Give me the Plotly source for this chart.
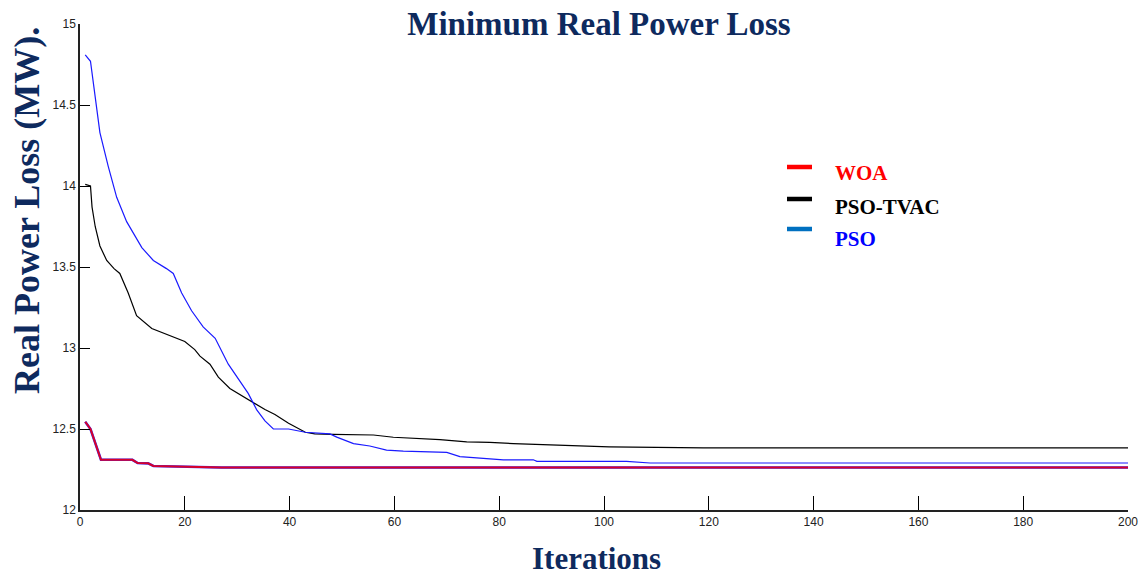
import plotly.graph_objects as go

# ---------------- data ----------------
iter_pso = [1, 2, 3.8, 5.4, 7, 8.9, 11.8, 14, 16.5, 17.8, 19.4, 21.3, 23.5, 25.8,
            28.3, 30.2, 32.1, 33.7, 35.3, 36.9, 39.8, 43, 47.7, 49, 52.2, 55.3,
            58.5, 61.7, 66.2, 70, 72.5, 77, 80.8, 86.5, 87.2, 104.3, 108.8, 200]
loss_pso = [14.81, 14.77, 14.33, 14.12, 13.93, 13.78, 13.62, 13.54, 13.49, 13.46,
            13.34, 13.23, 13.13, 13.06, 12.90, 12.81, 12.72, 12.62, 12.55, 12.50,
            12.50, 12.48, 12.47, 12.45, 12.41, 12.395, 12.37, 12.364, 12.358,
            12.356, 12.33, 12.32, 12.31, 12.31, 12.30, 12.30, 12.29, 12.29]

iter_tvac = [1, 2, 2.3, 2.9, 3.8, 5.1, 6.5, 7.6, 9.2, 10.8, 13.7, 17.5, 20, 21.9,
             22.9, 24.8, 26.4, 28.6, 32.1, 35.3, 37.2, 39.8, 43, 44.8, 48.3, 56,
             59.8, 64.9, 68.7, 73.8, 78.2, 82.7, 87.8, 92.9, 101, 119, 200]
loss_tvac = [14.01, 14.00, 13.87, 13.75, 13.63, 13.54, 13.49, 13.46, 13.34, 13.20,
             13.12, 13.07, 13.04, 12.99, 12.95, 12.90, 12.82, 12.75, 12.68, 12.62,
             12.59, 12.535, 12.48, 12.47, 12.467, 12.463, 12.449, 12.44, 12.434,
             12.42, 12.418, 12.41, 12.405, 12.397, 12.39, 12.383, 12.383]

iter_woa = [1, 2, 4, 10, 11, 13, 14, 20, 26, 27, 200]
loss_woa = [12.545, 12.50, 12.31, 12.31, 12.29, 12.288, 12.272, 12.268, 12.266,
            12.262, 12.262]

x_ticks = [0, 20, 40, 60, 80, 100, 120, 140, 160, 180, 200]
y_ticks = [12, 12.5, 13, 13.5, 14, 14.5, 15]
y_tick_labels = ["12", "12.5", "13", "13.5", "14", "14.5", "15"]

series_names = ["WOA", "PSO-TVAC", "PSO"]
series_text_colors = ["#ff0000", "#000000", "#0000ff"]
series_swatch_colors = ["#ff0000", "#000000", "#0070c0"]

NAVY = "#0e2a5e"
SERIF = "Liberation Serif, Times New Roman, serif"
TICKFONT = dict(family="Liberation Sans Narrow, Liberation Sans, Arial, sans-serif",
                size=12, color="#222222")

fig = go.Figure()

fig.add_trace(go.Scatter(x=iter_tvac, y=loss_tvac, mode="lines",
                         line=dict(color="#000000", width=1.2),
                         name="PSO-TVAC", showlegend=False))
fig.add_trace(go.Scatter(x=iter_pso, y=loss_pso, mode="lines",
                         line=dict(color="#1a1aff", width=1.2),
                         name="PSO", showlegend=False))
# WOA drawn as red over a thin blue edge (as in the reference)
fig.add_trace(go.Scatter(x=iter_woa, y=loss_woa, mode="lines",
                         line=dict(color="#3030ff", width=2.6),
                         hoverinfo="skip", showlegend=False))
fig.add_trace(go.Scatter(x=iter_woa, y=loss_woa, mode="lines",
                         line=dict(color="#d8002a", width=2.0),
                         name="WOA", showlegend=False))

# custom legend (swatch + coloured bold text)
W, H = 1139, 578
L, R, T, B = 80, 11, 24, 68
pw, ph = W - L - R, H - T - B


def px_x(p):
    return (p - L) / pw


def px_y(p):
    return (H - B - p) / ph


swatch_y = [167, 199, 229]
text_y = [173, 207, 239]
for name, tcol, scol, sy, ty in zip(series_names, series_text_colors,
                                    series_swatch_colors, swatch_y, text_y):
    fig.add_shape(type="line", xref="paper", yref="paper",
                  x0=px_x(787), x1=px_x(812), y0=px_y(sy), y1=px_y(sy),
                  line=dict(color=scol, width=4.5))
    fig.add_annotation(xref="paper", yref="paper", x=px_x(833), y=px_y(ty),
                       xanchor="left", yanchor="middle", showarrow=False,
                       text="<b>%s</b>" % name,
                       font=dict(family=SERIF, size=21, color=tcol))

# y-axis title
fig.add_annotation(xref="paper", yref="paper", x=px_x(27), y=px_y(211),
                   xanchor="center", yanchor="middle", showarrow=False,
                   textangle=-90, text="<b>Real Power Loss (MW).</b>",
                   font=dict(family=SERIF, size=36, color=NAVY))
# x-axis title
fig.add_annotation(xref="paper", yref="paper", x=px_x(596), y=px_y(558),
                   xanchor="center", yanchor="middle", showarrow=False,
                   text="<b>Iterations</b>",
                   font=dict(family=SERIF, size=31, color=NAVY))

fig.update_layout(
    width=W, height=H,
    margin=dict(l=L, r=R, t=T, b=B, autoexpand=False),
    paper_bgcolor="white", plot_bgcolor="white",
    title=dict(text="<b>Minimum Real Power Loss</b>", x=599 / W, xanchor="center",
               y=1 - 23 / H, yanchor="middle", yref="container",
               font=dict(family=SERIF, size=33, color=NAVY)),
    showlegend=False,
    xaxis=dict(range=[0, 200], tickvals=x_ticks, ticks="inside", ticklen=14,
               tickwidth=1, tickcolor="#000000", showline=True,
               linecolor="#222222", linewidth=1.5, showgrid=False,
               zeroline=False, tickfont=TICKFONT, automargin=False),
    yaxis=dict(range=[12, 15], tickvals=y_ticks, ticktext=y_tick_labels,
               ticks="inside", ticklen=10, tickwidth=1.2, tickcolor="#000000",
               showline=True, linecolor="#222222", linewidth=1.5,
               showgrid=False, zeroline=False, tickfont=TICKFONT,
               automargin=False),
)

fig.write_html("out.html")
